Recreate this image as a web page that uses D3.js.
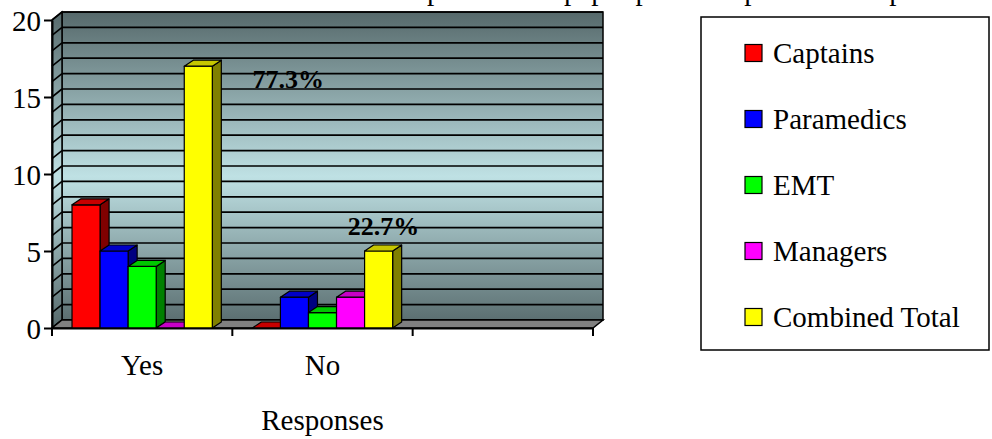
<!DOCTYPE html>
<html>
<head>
<meta charset="utf-8">
<script src="https://cdn.jsdelivr.net/npm/d3@7"></script>
<style>
  body { margin: 0; background: #fff; }
  svg { display: block; }
  text { font-family: "Liberation Serif", "Times New Roman", serif; fill: #000; }
</style>
</head>
<body>
<svg id="chart" width="992" height="439"></svg>
<script>
// ---- data ----
const categories = ["Yes", "No", ""];
const seriesNames = ["Captains", "Paramedics", "EMT", "Managers", "Combined Total"];
const captains = [8, 0, null];
const paramedics = [5, 2, null];
const emt = [4, 1, null];
const managers = [0, 2, null];
const combinedTotal = [17, 5, null];
const yTicks = [0, 5, 10, 15, 20];
const seriesColors = ["#ff0000", "#0000ff", "#00ff00", "#ff00ff", "#ffff00"];
const titleText = "Would staff prefer their paper patient reports to computers?";
const axisTitle = "Responses";

const seriesValues = [captains, paramedics, emt, managers, combinedTotal];

// ---- layout ----
const SERIF = "'Liberation Serif', 'Times New Roman', serif";
const svg = d3.select("#chart");
const FONT = 29;
const front = { left: 52, right: 593, bottom: 328, top: 20 };
const WDX = 10, WDY = 8;     // depth of walls / floor
const BDX = 9, BDY = 6;      // depth of the columns

const x = d3.scaleBand().domain(categories).range([front.left, front.right]).padding(0);
const bw = x.bandwidth();
const xs = d3.scaleBand().domain(seriesNames).range([bw * 0.111, bw * 0.889]).padding(0);
const y = d3.scaleLinear().domain([0, 20]).range([front.bottom, front.top]);

// wall gradient
const defs = svg.append("defs");
const grad = defs.append("linearGradient")
  .attr("id", "wallGrad").attr("gradientUnits", "userSpaceOnUse")
  .attr("x1", 0).attr("x2", 0).attr("y1", y(20) - WDY).attr("y2", y(0));
grad.append("stop").attr("offset", "0%").attr("stop-color", "#56696b");
grad.append("stop").attr("offset", "52%").attr("stop-color", "#bfe1e4");
grad.append("stop").attr("offset", "100%").attr("stop-color", "#56696b");

const lineFn = d3.line();

// title (runs above the top edge of the canvas)
svg.append("text")
  .attr("x", 285).attr("y", 0)
  .style("font-family", SERIF).attr("font-size", FONT)
  .text(titleText);

// back wall
svg.append("rect")
  .attr("x", front.left + WDX).attr("y", y(20) - WDY)
  .attr("width", front.right - front.left).attr("height", y(0) - y(20))
  .attr("fill", "url(#wallGrad)").attr("stroke", "#000").attr("stroke-width", 1.5);

// side wall
svg.append("path")
  .attr("d", lineFn([[front.left, y(20)], [front.left + WDX, y(20) - WDY],
                     [front.left + WDX, y(0) - WDY], [front.left, y(0)]]) + "Z")
  .attr("fill", "url(#wallGrad)").attr("stroke", "#000").attr("stroke-width", 1.5);

// gridlines at every unit
const gridVals = d3.range(0, 21);
const grid = svg.append("g").attr("stroke", "#000").attr("stroke-width", 1.7).attr("fill", "none");
gridVals.forEach(v => {
  grid.append("path").attr("d", lineFn([[front.left + WDX, y(v) - WDY], [front.right + WDX, y(v) - WDY]]));
  grid.append("path").attr("d", lineFn([[front.left, y(v)], [front.left + WDX, y(v) - WDY]]));
});

// floor
svg.append("path")
  .attr("d", lineFn([[front.left, y(0)], [front.left + WDX, y(0) - WDY],
                     [front.right + WDX, y(0) - WDY], [front.right, y(0)]]) + "Z")
  .attr("fill", "#808080").attr("stroke", "#000").attr("stroke-width", 1.5);

// columns
const shade = (c, k) => { const r = d3.rgb(c); return d3.rgb(r.r * k, r.g * k, r.b * k).formatHex(); };
const bars = svg.append("g").attr("stroke", "#000").attr("stroke-width", 1.2).attr("stroke-linejoin", "round");
categories.forEach((cat, i) => {
  seriesNames.forEach((name, j) => {
    const v = seriesValues[j][i];
    if (v == null) return;
    const x0 = x(cat) + xs(name), w = xs.bandwidth();
    const yt = y(v), yb = y(0);
    const col = seriesColors[j];
    bars.append("path")
      .attr("d", lineFn([[x0 + w, yt], [x0 + w + BDX, yt - BDY], [x0 + w + BDX, yb - BDY], [x0 + w, yb]]) + "Z")
      .attr("fill", shade(col, 0.5));
    if (v > 0) {
      bars.append("rect").attr("x", x0).attr("y", yt).attr("width", w).attr("height", yb - yt).attr("fill", col);
    }
    bars.append("path")
      .attr("d", lineFn([[x0, yt], [x0 + BDX, yt - BDY], [x0 + w + BDX, yt - BDY], [x0 + w, yt]]) + "Z")
      .attr("fill", shade(col, 0.78));
  });
});

// percentage labels on the combined totals
const grand = d3.sum(combinedTotal.filter(v => v != null));
const pct = d3.format(".1%");
const labelNudge = [[90, 22], [5, -16]];
categories.forEach((cat, i) => {
  const v = combinedTotal[i];
  if (v == null) return;
  const cx = x(cat) + xs("Combined Total") + xs.bandwidth() / 2;
  svg.append("text")
    .attr("x", cx + labelNudge[i][0]).attr("y", y(v) + labelNudge[i][1])
    .attr("text-anchor", "middle").style("font-family", SERIF)
    .attr("font-size", 26).attr("font-weight", "bold")
    .text(pct(v / grand));
});

// y axis
const yAxis = svg.append("g").attr("transform", `translate(${front.left},0)`)
  .call(d3.axisLeft(y).tickValues(yTicks).tickSize(8).tickSizeOuter(0).tickPadding(3).tickFormat(d3.format("d")));
yAxis.attr("font-family", null);
yAxis.select(".domain").attr("stroke", "#000").attr("stroke-width", 2);
yAxis.selectAll(".tick line").attr("stroke", "#000").attr("stroke-width", 2);
yAxis.selectAll(".tick text").style("font-family", SERIF).attr("font-size", FONT).attr("dy", "0.36em");

// x axis
const xAxis = svg.append("g").attr("transform", `translate(0,${front.bottom})`)
  .call(d3.axisBottom(x).tickSize(0).tickPadding(26));
xAxis.attr("font-family", null);
xAxis.select(".domain").attr("stroke", "#000").attr("stroke-width", 2);
xAxis.selectAll(".tick text").style("font-family", SERIF).attr("font-size", FONT);
const bounds = categories.map(c => x(c)).concat([x(categories[categories.length - 1]) + bw]);
xAxis.selectAll(".bound").data(bounds).join("line")
  .attr("class", "bound").attr("x1", d => d).attr("x2", d => d)
  .attr("y1", 0).attr("y2", 8).attr("stroke", "#000").attr("stroke-width", 2);

svg.append("text")
  .attr("x", (x("No") + bw / 2)).attr("y", 430)
  .attr("text-anchor", "middle").style("font-family", SERIF).attr("font-size", FONT)
  .text(axisTitle);

// legend
const legend = svg.append("g");
legend.append("rect").attr("x", 701).attr("y", 17).attr("width", 288).attr("height", 333)
  .attr("fill", "#fff").attr("stroke", "#000").attr("stroke-width", 1.5);
seriesNames.forEach((name, j) => {
  const cy = 53 + j * 66;
  legend.append("rect").attr("x", 745).attr("y", cy - 8.5).attr("width", 17).attr("height", 17)
    .attr("fill", seriesColors[j]).attr("stroke", "#000").attr("stroke-width", 1.2);
  legend.append("text").attr("x", 773).attr("y", cy).attr("dy", "0.35em")
    .style("font-family", SERIF).attr("font-size", FONT).text(name);
});
</script>
</body>
</html>
